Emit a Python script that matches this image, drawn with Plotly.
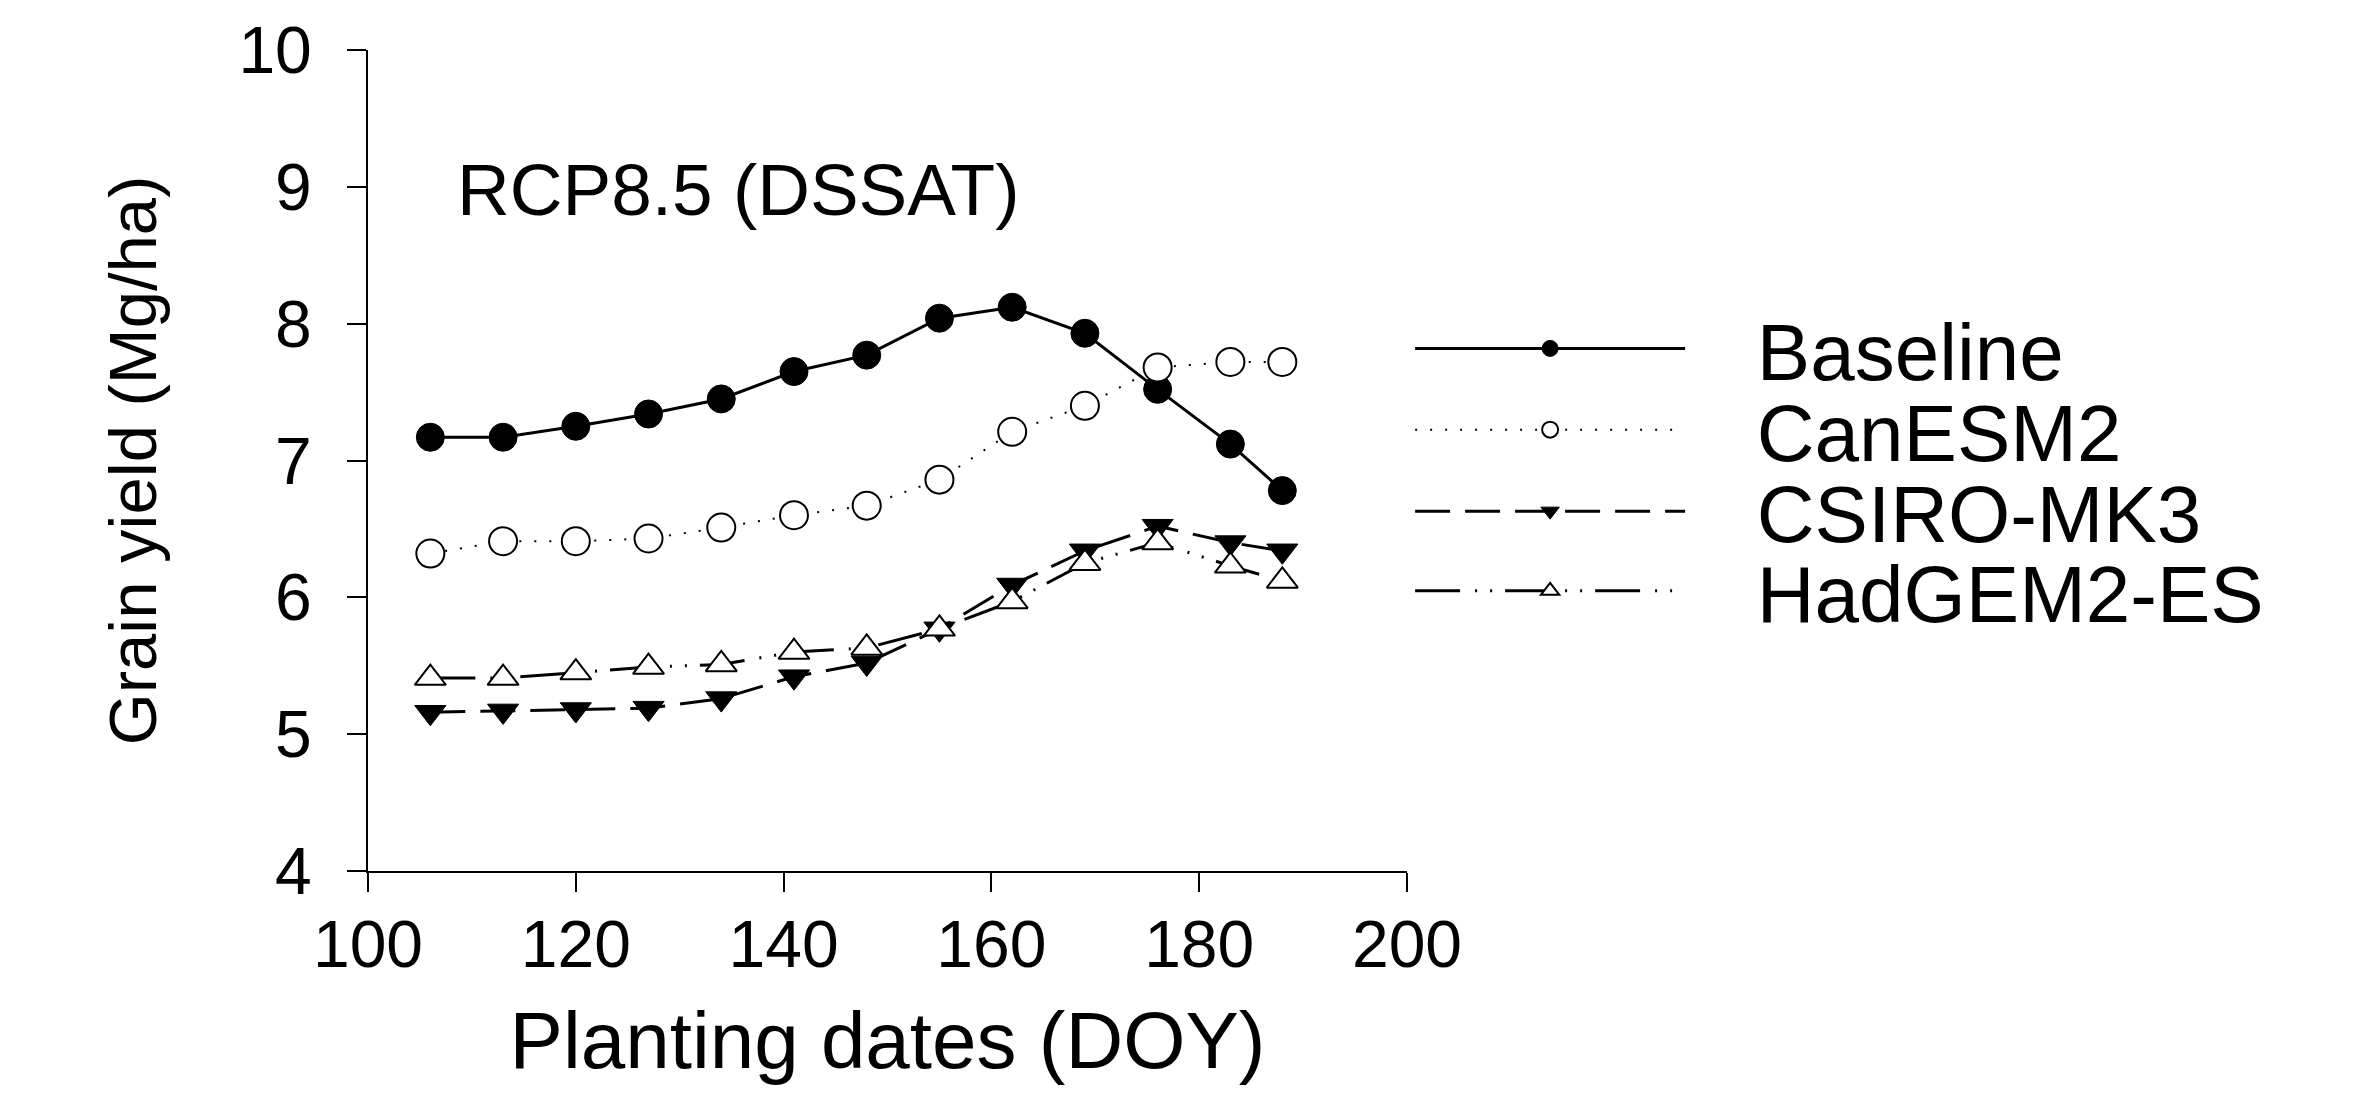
import plotly.graph_objects as go

doy = [106, 113, 120, 127, 134, 141, 148, 155, 162, 169, 176, 183, 188]
baseline = [7.17, 7.17, 7.25, 7.34, 7.45, 7.65, 7.77, 8.04, 8.12, 7.93, 7.52, 7.12, 6.78]
canesm2 = [6.32, 6.41, 6.41, 6.43, 6.51, 6.60, 6.67, 6.86, 7.21, 7.40, 7.68, 7.72, 7.72]
csiro = [5.16, 5.17, 5.18, 5.19, 5.26, 5.42, 5.52, 5.77, 6.09, 6.34, 6.52, 6.40, 6.34]
hadgem = [5.41, 5.41, 5.45, 5.49, 5.51, 5.60, 5.63, 5.77, 5.97, 6.25, 6.40, 6.23, 6.12]

x_ticks = [100, 120, 140, 160, 180, 200]
y_ticks = [4, 5, 6, 7, 8, 9, 10]

FONT = "Liberation Sans, Arial, sans-serif"
PAD = "\u00a0\u00a0\u00a0"

fig = go.Figure()
fig.add_trace(go.Scatter(
    x=doy, y=baseline, name=PAD + "Baseline", mode="lines+markers", legend="legend",
    line=dict(color="black", width=3, dash="solid"),
    marker=dict(symbol="circle", size=28, color="black", line=dict(color="black", width=1))))
fig.add_trace(go.Scatter(
    x=doy, y=canesm2, name=PAD + "CanESM2", mode="lines+markers", legend="legend2",
    line=dict(color="black", width=2, dash="2px,13px"),
    marker=dict(symbol="circle", size=28, color="white", line=dict(color="black", width=2))))
fig.add_trace(go.Scatter(
    x=doy, y=csiro, name=PAD + "CSIRO-MK3", mode="lines+markers", legend="legend3",
    line=dict(color="black", width=3, dash="35px,15px"),
    marker=dict(symbol="triangle-down", size=27, color="black", line=dict(color="black", width=1))))
fig.add_trace(go.Scatter(
    x=doy, y=hadgem, name=PAD + "HadGEM2-ES", mode="lines+markers", legend="legend4",
    line=dict(color="black", width=3, dash="45px,15px,2px,13px,2px,13px"),
    marker=dict(symbol="triangle-up", size=27, color="white", line=dict(color="black", width=2))))

fig.add_annotation(x=108.5, y=8.98, xref="x", yref="y", text="RCP8.5 (DSSAT)",
                   showarrow=False, xanchor="left", yanchor="middle", borderpad=0,
                   font=dict(family=FONT, size=73, color="black"))

leg_common = dict(font=dict(family=FONT, size=80, color="black"), itemwidth=270,
                  xanchor="left", yanchor="middle", bgcolor="rgba(0,0,0,0)",
                  borderwidth=0, tracegroupgap=0, x=1.003)

# the page body adds an 8px margin, so the figure is 16px smaller than the window
fig.update_layout(
    width=2359, height=1077,
    margin=dict(l=360, r=960, t=42, b=214, autoexpand=False),
    paper_bgcolor="white", plot_bgcolor="white",
    font=dict(family=FONT, color="black"),
    showlegend=True,
    legend=dict(y=0.6365, **leg_common),
    legend2=dict(y=0.5376, **leg_common),
    legend3=dict(y=0.4383, **leg_common),
    legend4=dict(y=0.3413, **leg_common),
    xaxis=dict(range=[100, 200], tickvals=x_ticks, showgrid=False, zeroline=False,
               automargin=False,
               showline=True, linecolor="black", linewidth=2,
               ticks="outside", ticklen=19, tickwidth=2, tickcolor="black",
               ticklabelstandoff=-4,
               tickfont=dict(family=FONT, size=66, color="black"),
               title=dict(text="Planting dates (DOY)", standoff=42,
                          font=dict(family=FONT, size=80, color="black"))),
    yaxis=dict(range=[4, 10], tickvals=y_ticks, showgrid=False, zeroline=False,
               automargin=False,
               showline=True, linecolor="black", linewidth=2,
               ticks="outside", ticklen=19, tickwidth=2, tickcolor="black",
               ticklabelstandoff=22,
               tickfont=dict(family=FONT, size=66, color="black"),
               title=dict(text="Grain yield (Mg/ha)", standoff=60,
                          font=dict(family=FONT, size=67, color="black"))),
)

fig.write_html("out.html")
